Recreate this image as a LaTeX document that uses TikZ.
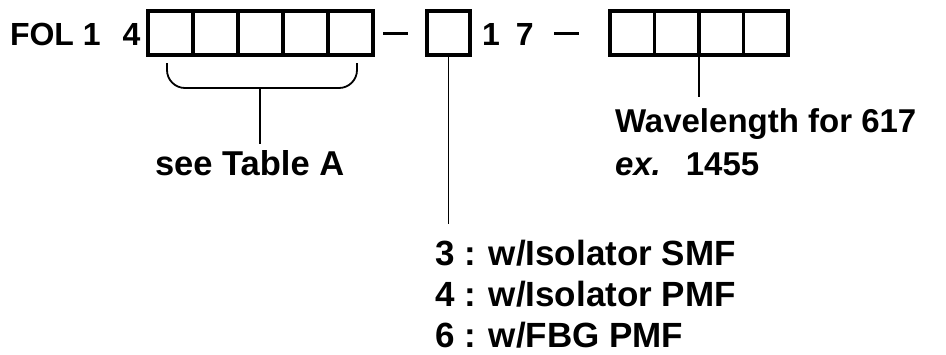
\documentclass[tikz,border=0pt]{standalone}
\usepackage{fontspec}
\setmainfont{Liberation Sans}
\begin{document}
\begin{tikzpicture}[x=1pt,y=-1pt,
  digitcell/.style={draw, line width=3.6pt, minimum width=45pt, minimum height=44pt, inner sep=0pt, outer sep=0pt},
  widecell/.style={digitcell, minimum width=44.5pt},
  smallcell/.style={digitcell, minimum width=43pt},
  lead/.style={line width=1.8pt},
  dashline/.style={line width=3pt},
  lbl/.style={inner sep=0pt, outer sep=0pt, anchor=base west, font=\bfseries\fontsize{#1}{#1}\selectfont},
  lbl/.default=33]
\useasboundingbox (0,0) rectangle (946,354);
% top row text
\node[lbl=32] (fol) at (10,45) {FOL 1\hspace{22pt}4};
\node[lbl=32] (seventeen) at (482,45) {1\hspace{16pt}7};
% five cells
\foreach \i/\x in {1/170.5,2/215.5,3/260.5,4/305.5,5/350.5}
  \node[digitcell] (a\i) at (\x,33) {};
% dashes
\coordinate (d1s) at (383,33); \coordinate (d1e) at (408,33);
\draw[dashline] (d1s) -- (d1e);
\node[smallcell] (sb) at (448.5,33) {};
\coordinate (d2s) at (554,33); \coordinate (d2e) at (579,33);
\draw[dashline] (d2s) -- (d2e);
% four cells
\foreach \i/\x in {1/632.25,2/676.75,3/721.25,4/765.75}
  \node[widecell] (b\i) at (\x,33) {};
% brace
\coordinate (brL) at (167,63);
\coordinate (brR) at (357,63);
\coordinate (brM) at (260,88);
\coordinate (brT) at (260,144);
\draw[lead, rounded corners=18pt] (brL) -- (167,88) -- (357,88) -- (brR);
\draw[lead] (brM) -- (brT);
% labels
\node[lbl=34.5] (tabA) at (155,175) {see Table A};
\node[lbl=33] (wl) at (615,132) {Wavelength for 617};
\node[lbl=33] (ex) at (615,175) {\textit{ex.}\hspace{25pt}1455};
\coordinate (wlT) at (b2.south east |- 0,97);
\draw[lead] (b2.south east) -- (wlT);
% option list
\node[lbl=35] (o3) at (435,265) {3 : w/Isolator SMF};
\node[lbl=35] (o4) at (435,306.5) {4 : w/Isolator PMF};
\node[lbl=35] (o6) at (435,347.5) {6 : w/FBG PMF};
\coordinate (sbT) at (sb.south |- 0,224);
\draw[lead] (sb.south) -- (sbT);
\end{tikzpicture}
\end{document}
